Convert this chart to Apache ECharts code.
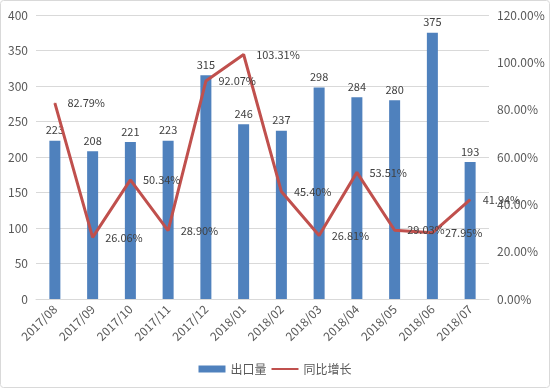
<!DOCTYPE html>
<html><head><meta charset="utf-8">
<script src="https://cdn.jsdelivr.net/npm/echarts@6/dist/echarts.min.js"></script>
<style>html,body{margin:0;padding:0;background:#fff}#c{width:550px;height:388px}</style>
</head><body><div id="c"></div>
<script>
const categories = ['2017/08','2017/09','2017/10','2017/11','2017/12','2018/01','2018/02','2018/03','2018/04','2018/05','2018/06','2018/07'];
const exportVolume = [223,208,221,223,315,246,237,298,284,280,375,193];
const yoyGrowth = [82.79,26.06,50.34,28.90,92.07,103.31,45.40,26.81,53.51,29.03,27.95,41.94];
const seriesNames = ['出口量','同比增长'];

const font = "'Noto Sans CJK SC', sans-serif";
const chart = echarts.init(document.getElementById('c'));
chart.setOption({
  animation: false,
  textStyle: {fontFamily: font},
  graphic: [{type:'rect', shape:{x:0.5,y:0.5,width:549,height:387,r:3}, style:{fill:'none',stroke:'#d9d9d9',lineWidth:1}, silent:true}],
  grid: {left: 36, right: 61, top: 15, bottom: 89},
  legend: {
    bottom: 8, left: 'center', itemGap: 4, itemWidth: 27, itemHeight: 7,
    textStyle: {color:'#595959', fontSize: 12, fontFamily: font},
    data: [{name: seriesNames[0], icon:'rect'}, {name: seriesNames[1], itemStyle:{opacity:0}}]
  },
  xAxis: {
    type: 'category', data: categories,
    axisLine: {lineStyle:{color:'#d9d9d9'}}, axisTick: {show:false},
    axisLabel: {rotate: 45, color:'#595959', fontSize: 12, interval: 0, margin: 8, fontFamily: font}
  },
  yAxis: [{
    type:'value', min:0, max:400, interval:50,
    axisLine:{show:false}, axisTick:{show:false},
    splitLine:{lineStyle:{color:'#d9d9d9'}},
    axisLabel:{color:'#595959', fontSize:12, margin:8, fontFamily: font}
  },{
    type:'value', min:0, max:120, interval:20,
    axisLine:{show:false}, axisTick:{show:false}, splitLine:{show:false},
    axisLabel:{color:'#595959', fontSize:12, margin:8, formatter: v => v.toFixed(2)+'%', fontFamily: font}
  }],
  series: [{
    name: seriesNames[0], type:'bar', data: exportVolume, barWidth: 11,
    itemStyle:{color:'#4f81bd'},
    label:{show:true, position:'top', color:'#404040', fontSize:11, distance:5, fontFamily: font},
    labelLayout:{hideOverlap:false}
  },{
    name: seriesNames[1], type:'line', yAxisIndex:1, data: yoyGrowth,
    symbol:'circle', symbolSize:1, showSymbol:true, showAllSymbol:true,
    lineStyle:{color:'#c0504d', width:3}, itemStyle:{color:'#c0504d'},
    label:{show:true, position:'right', color:'#404040', fontSize:11, distance:12, formatter: p => p.value.toFixed(2)+'%', fontFamily: font},
    labelLayout:{hideOverlap:false}
  }]
});
</script></body></html>
